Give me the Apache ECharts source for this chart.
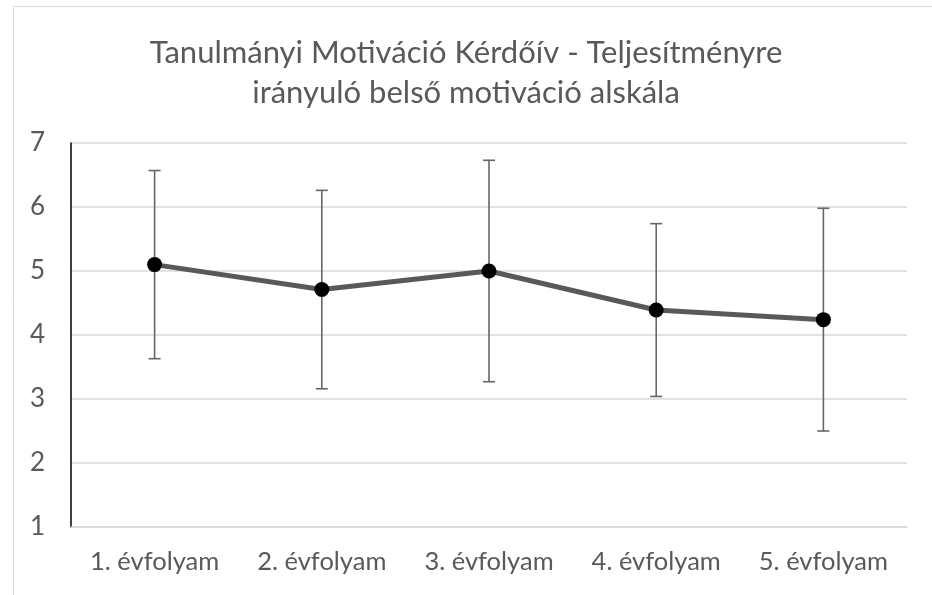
<!DOCTYPE html>
<html>
<head>
<meta charset="utf-8">
<script src="https://cdn.jsdelivr.net/npm/echarts@6/dist/echarts.min.js"></script>
<style>
  html, body { margin: 0; padding: 0; background: #ffffff; }
  #chart { width: 932px; height: 595px; }
</style>
</head>
<body>
<div id="chart"></div>
<script>
// Évfolyamok és a skála átlagai / szórásai
const categories = ['1. évfolyam', '2. évfolyam', '3. évfolyam', '4. évfolyam', '5. évfolyam'];
const means = [5.10, 4.71, 5.00, 4.39, 4.24];
const sds = [1.47, 1.55, 1.73, 1.35, 1.74];
const yTicks = [1, 2, 3, 4, 5, 6, 7];

const FONT = 'Lato';
const TEXT = '#595959';

const chart = echarts.init(document.getElementById('chart'), null, { renderer: 'canvas' });

const errData = means.map((m, i) => [i, m - sds[i], m + sds[i]]);

chart.setOption({
  backgroundColor: '#ffffff',
  animation: false,
  title: {
    text: 'Tanulmányi Motiváció Kérdőív - Teljesítményre\nirányuló belső motiváció alskála',
    left: 'center',
    top: 28,
    textStyle: {
      fontFamily: FONT,
      fontWeight: 'normal',
      fontSize: 31,
      lineHeight: 40,
      color: TEXT
    }
  },
  graphic: [{
    type: 'polyline',
    shape: { points: [[13.5, 600], [13.5, 6.5], [940, 6.5]] },
    style: { stroke: '#d9d9d9', lineWidth: 1, fill: null },
    silent: true
  }],
  grid: { left: 71, right: 25, top: 143, bottom: 68 },
  xAxis: {
    type: 'category',
    data: categories,
    boundaryGap: true,
    axisLine: { show: true, lineStyle: { color: '#d9d9d9', width: 1.5 } },
    axisTick: { show: false },
    axisLabel: {
      interval: 0,
      hideOverlap: false,
      fontFamily: FONT,
      fontSize: 25.5,
      color: TEXT,
      margin: 22
    }
  },
  yAxis: {
    type: 'value',
    min: 1,
    max: 7,
    interval: 1,
    axisLine: { show: true, lineStyle: { color: '#000000', width: 1.5 } },
    axisTick: { show: false },
    axisLabel: {
      fontFamily: FONT,
      fontSize: 26,
      color: TEXT,
      margin: 26,
      formatter: v => (yTicks.includes(v) ? String(v) : '')
    },
    splitLine: { show: true, lineStyle: { color: '#d9d9d9', width: 1.5 } }
  },
  series: [
    {
      type: 'custom',
      z: 2,
      data: errData,
      encode: { x: 0, y: [1, 2] },
      renderItem: function (params, api) {
        const x = api.value(0);
        const lo = api.coord([x, api.value(1)]);
        const hi = api.coord([x, api.value(2)]);
        const cap = 6;
        const style = { stroke: '#666666', lineWidth: 1.6 };
        return {
          type: 'group',
          children: [
            { type: 'line', shape: { x1: lo[0], y1: lo[1], x2: hi[0], y2: hi[1] }, style },
            { type: 'line', shape: { x1: lo[0] - cap, y1: lo[1], x2: lo[0] + cap, y2: lo[1] }, style },
            { type: 'line', shape: { x1: hi[0] - cap, y1: hi[1], x2: hi[0] + cap, y2: hi[1] }, style }
          ]
        };
      }
    },
    {
      type: 'line',
      z: 3,
      data: means,
      symbol: 'circle',
      symbolSize: 15,
      lineStyle: { color: '#595959', width: 5 },
      itemStyle: { color: '#000000', borderWidth: 0 }
    }
  ]
});
</script>
</body>
</html>
